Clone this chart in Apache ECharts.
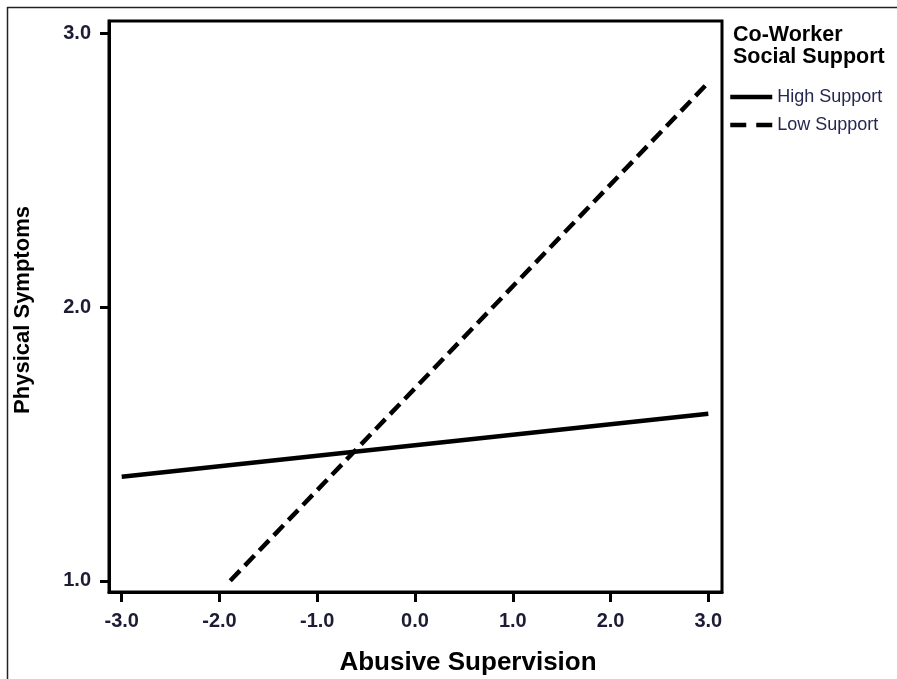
<!DOCTYPE html>
<html>
<head>
<meta charset="utf-8">
<script src="https://cdn.jsdelivr.net/npm/echarts@6/dist/echarts.min.js"></script>
<style>
html,body{margin:0;padding:0;background:#fff;}
#chart{width:897px;height:679px;}
</style>
</head>
<body>
<div id="chart"></div>
<script>
// ---- data ----
var xTicks = [-3, -2, -1, 0, 1, 2, 3];
var yTicks = [1, 2, 3];
var seriesNames = ['High Support', 'Low Support'];
var highX = [-3.0, 3.0];
var highY = [1.38, 1.61];
var lowX = [-1.89, 3.0];
var lowY = [1.0, 2.82];
var xTitle = 'Abusive Supervision';
var yTitle = 'Physical Symptoms';
var legendTitle = ['Co-Worker', 'Social Support'];

function pairs(xs, ys) { return xs.map(function (x, i) { return [x, ys[i]]; }); }

var FONT = '"Liberation Sans", Arial, sans-serif';
var LABEL_COLOR = '#1c1c36';

var chart = echarts.init(document.getElementById('chart'), null, { renderer: 'canvas' });
chart.setOption({
  backgroundColor: '#fff',
  animation: false,
  grid: {
    left: 109, top: 21, right: 175, bottom: 87,
    show: true, borderColor: '#000', borderWidth: 3, backgroundColor: 'transparent'
  },
  xAxis: {
    type: 'value', min: -3.13, max: 3.14,
    splitLine: { show: false },
    axisLine: { show: true, onZero: false, lineStyle: { color: '#000', width: 3 } },
    axisTick: { show: true, customValues: xTicks, length: 10, lineStyle: { color: '#000', width: 3 } },
    axisLabel: {
      customValues: xTicks, margin: 19,
      fontFamily: FONT, fontSize: 20, fontWeight: 'bold', color: LABEL_COLOR,
      formatter: function (v) { return v.toFixed(1); }
    }
  },
  yAxis: {
    type: 'value', min: 0.959, max: 3.045,
    splitLine: { show: false },
    axisLine: { show: true, onZero: false, lineStyle: { color: '#000', width: 3 } },
    axisTick: { show: true, customValues: yTicks, length: 9, lineStyle: { color: '#000', width: 3 } },
    axisLabel: {
      customValues: yTicks, margin: 18,
      fontFamily: FONT, fontSize: 20, fontWeight: 'bold', color: LABEL_COLOR,
      formatter: function (v) { return v.toFixed(1); }
    }
  },
  legend: {
    orient: 'vertical', left: 728, top: 88, padding: 0,
    itemWidth: 42, itemHeight: 14, itemGap: 10,
    itemStyle: { color: 'transparent', borderColor: 'transparent', borderWidth: 0, opacity: 0 },
    lineStyle: { width: 4.5, color: '#000' },
    data: [
      { name: seriesNames[0], lineStyle: { type: 'solid' } },
      { name: seriesNames[1], lineStyle: { type: [16, 10] } }
    ],
    textStyle: { fontFamily: FONT, fontSize: 18, color: '#262650' }
  },
  series: [
    {
      name: seriesNames[0], type: 'line', symbol: 'none',
      data: pairs(highX, highY),
      lineStyle: { color: '#000', width: 4.5, type: 'solid' },
      itemStyle: { color: '#000' }
    },
    {
      name: seriesNames[1], type: 'line', symbol: 'none',
      data: pairs(lowX, lowY),
      lineStyle: { color: '#000', width: 4.5, type: [14, 7], cap: 'butt' },
      itemStyle: { color: '#000' }
    }
  ],
  graphic: [
    { type: 'line', shape: { x1: 7, y1: 7.5, x2: 897, y2: 7.5 }, style: { stroke: '#222', lineWidth: 1.5 }, silent: true },
    { type: 'line', shape: { x1: 7.5, y1: 7, x2: 7.5, y2: 679 }, style: { stroke: '#222', lineWidth: 1.5 }, silent: true },
    { type: 'text', x: 468, y: 663, style: { text: xTitle, font: 'bold 26px ' + FONT, fill: '#000', align: 'center', verticalAlign: 'middle' } },
    { type: 'text', x: 23, y: 310, rotation: Math.PI / 2, style: { text: yTitle, font: 'bold 22px ' + FONT, fill: '#000', align: 'center', verticalAlign: 'middle' } },
    { type: 'text', x: 733, y: 35.5, style: { text: legendTitle[0], font: 'bold 21.5px ' + FONT, fill: '#000', align: 'left', verticalAlign: 'middle' } },
    { type: 'text', x: 733, y: 57.5, style: { text: legendTitle[1], font: 'bold 21.5px ' + FONT, fill: '#000', align: 'left', verticalAlign: 'middle' } }
  ]
});
</script>
</body>
</html>
